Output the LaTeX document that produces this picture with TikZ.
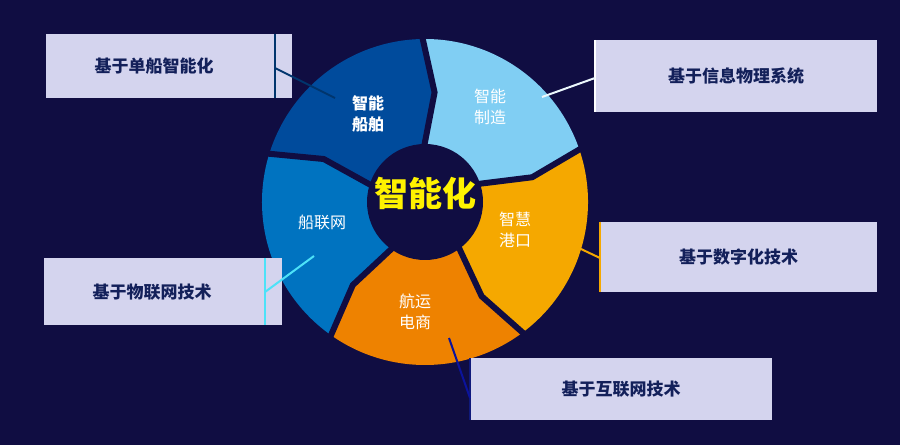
\documentclass[tikz,border=0pt]{standalone}
\usepackage{fontspec}
\newfontfamily\cjk{Noto Sans CJK SC}
\usetikzlibrary{calc}
\definecolor{bgc}{HTML}{100D42}
\definecolor{cA}{HTML}{004B9C}
\definecolor{cB}{HTML}{80CEF3}
\definecolor{cC}{HTML}{F5A800}
\definecolor{cD}{HTML}{EE8200}
\definecolor{cE}{HTML}{0073C0}
\definecolor{boxc}{HTML}{D4D4EE}
\definecolor{txtc}{HTML}{13205A}
\tikzset{
  infobox/.style={fill=boxc, draw=none, minimum height=64pt, inner sep=0pt, font=\cjk\bfseries\fontsize{17}{20}\selectfont, text=txtc, anchor=north west},
  seglabel/.style={font=\cjk\fontsize{16}{21}\selectfont, text=white, align=center},
  conn/.style={line width=2pt}
}
\begin{document}
\begin{tikzpicture}[x=1pt,y=1pt]
\fill[bgc] (0,0) rectangle (900,445);
\useasboundingbox (0,0) rectangle (900,445);
\coordinate (c) at (425,243);
\def\R{163}\def\r{57}\def\m{110}
\foreach \a/\b/\col in {91/19/cB, 19/-53/cC, -53/-125/cD, -125/-197/cE, 163/91/cA}{
  \fill[\col] ($(c)+(\a:\R)$) arc[start angle=\a, end angle=\b, radius=\R]
    -- ($(c)+(\b-6:\m)$) -- ($(c)+(\b:\r)$)
    arc[start angle=\b, end angle=\a, radius=\r]
    -- ($(c)+(\a-6:\m)$) -- cycle;
}
\foreach \a in {91,19,-53,-125,163}{
  \draw[bgc, line width=6pt, line join=miter] ($(c)+(\a:\R+3)$) -- ($(c)+(\a-6:\m)$) -- ($(c)+(\a:\r-2)$);
}
\fill[bgc] (c) circle (58);
\node[font=\cjk\bfseries\fontsize{34}{40}\selectfont, text=yellow] (center) at (425,252) {智能化};
\node[seglabel, font=\cjk\bfseries\fontsize{16}{21}\selectfont] (sA) at (368,331) {智能\\船舶};
\node[seglabel] (sB) at (490,338) {智能\\制造};
\node[seglabel] (sC) at (515,215) {智慧\\港口};
\node[seglabel] (sD) at (415,133) {航运\\电商};
\node[seglabel] (sE) at (322,223) {船联网};
% boxes
\node[infobox, minimum width=246pt] (bA) at (46,411) {\hspace*{-30pt}基于单船智能化};
\node[infobox, minimum width=282pt, minimum height=72pt] (bB) at (595,405) {基于信息物理系统};
\node[infobox, minimum width=277pt, minimum height=70pt] (bC) at (600,223) {基于数字化技术};
\node[infobox, minimum width=238pt, minimum height=67pt] (bE) at (44,187) {\hspace*{-22pt}基于物联网技术};
\node[infobox, minimum width=302pt, minimum height=62pt] (bD) at (470,87) {基于互联网技术};
% vertical accent lines
\draw[cA!70!black, line width=2pt] ($(bA.north west)+(229,0)$) -- ($(bA.south west)+(229,0)$);
\draw[white, line width=2pt] (bB.north west) -- (bB.south west);
\draw[cC, line width=2.5pt] (bC.north west) -- (bC.south west);
\draw[cB!60!cyan, line width=2pt] ($(bE.north west)+(221,0)$) -- ($(bE.south west)+(221,0)$);
\draw[txtc!80!blue, line width=2pt] (bD.north west) -- (bD.south west);
% connectors
\coordinate (pA) at (275,377); \coordinate (qA) at (335,347);
\coordinate (pB) at (595,367); \coordinate (qB) at (542,348);
\coordinate (pC) at (600,187); \coordinate (qC) at (545,213);
\coordinate (pE) at (265,153); \coordinate (qE) at (314,189);
\coordinate (pD) at (470,47);  \coordinate (qD) at (449,107);
\draw[conn, cA!70!black] (pA) -- (qA);
\draw[conn, white!85!cB] (pB) -- (qB);
\draw[conn, cC] (pC) -- (qC);
\draw[conn, cB!60!cyan] (pE) -- (qE);
\draw[conn, txtc!60!blue] (pD) -- (qD);
\end{tikzpicture}
\end{document}
